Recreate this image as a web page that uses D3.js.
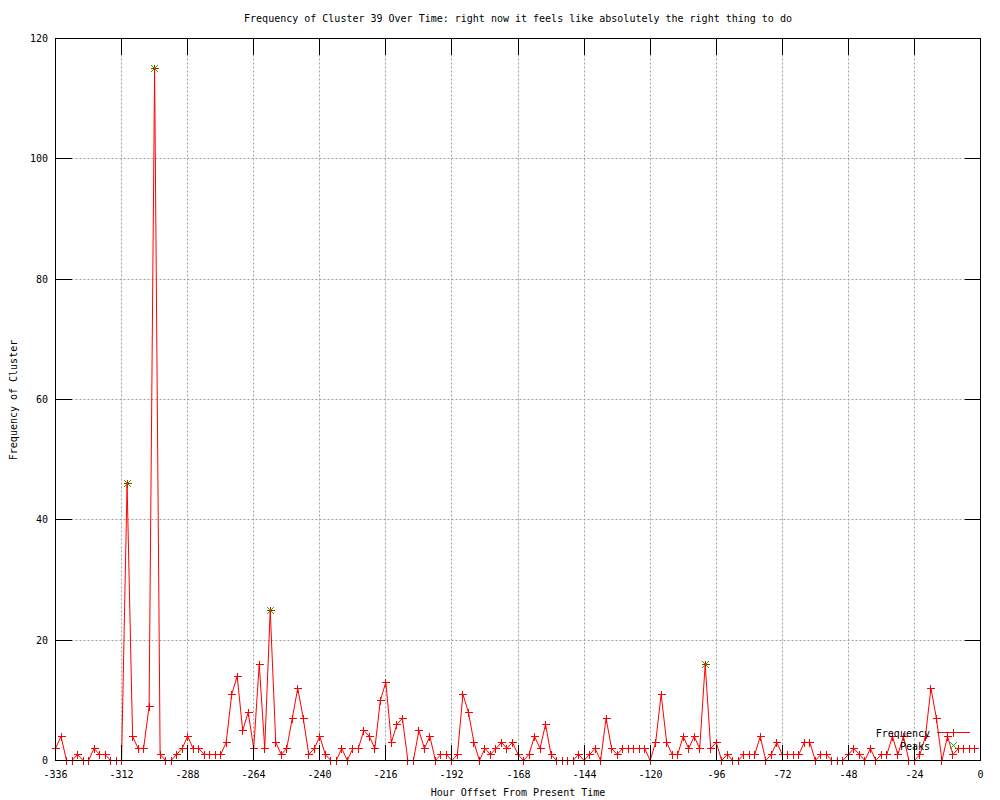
<!DOCTYPE html>
<html><head><meta charset="utf-8">
<script src="https://cdn.jsdelivr.net/npm/d3@7"></script>
<style>
body{margin:0;background:#fff}
text{font-family:"DejaVu Sans Mono",monospace;font-size:10px;fill:#000}
</style>
</head><body>
<svg id="c" width="1000" height="800"></svg>
<script>
const chartTitle = "Frequency of Cluster 39 Over Time: right now it feels like absolutely the right thing to do";
const xLabel = "Hour Offset From Present Time";
const yLabel = "Frequency of Cluster";
const seriesNames = ["Frequency", "Peaks"];

const hours = [
 -336,-334,-332,-330,-328,-326,-324,-322,-320,-318,-316,-314,-312,-310,-308,-306,-304,-302,-300,-298,
 -296,-294,-292,-290,-288,-286,-284,-282,-280,-278,-276,-274,-272,-270,-268,-266,-264,-262,-260,-258,
 -256,-254,-252,-250,-248,-246,-244,-242,-240,-238,-236,-234,-232,-230,-228,-226,-224,-222,-220,-218,
 -216,-214,-212,-210,-208,-206,-204,-202,-200,-198,-196,-194,-192,-190,-188,-186,-184,-182,-180,-178,
 -176,-174,-172,-170,-168,-166,-164,-162,-160,-158,-156,-154,-152,-150,-148,-146,-144,-142,-140,-138,
 -136,-134,-132,-130,-128,-126,-124,-122,-120,-118,-116,-114,-112,-110,-108,-106,-104,-102,-100,-98,
 -96,-94,-92,-90,-88,-86,-84,-82,-80,-78,-76,-74,-72,-70,-68,-66,-64,-62,-60,-58,
 -56,-54,-52,-50,-48,-46,-44,-42,-40,-38,-36,-34,-32,-30,-28,-26,-24,-22,-20,-18,
 -16,-14,-12,-10,-8,-6,-4,-2
];
const frequency = [
 2,4,0,0,1,0,0,2,1,1,0,0,0,46,4,2,2,9,115,1,
 0,0,1,2,4,2,2,1,1,1,1,3,11,14,5,8,2,16,2,25,
 3,1,2,7,12,7,1,2,4,1,0,0,2,0,2,2,5,4,2,10,
 13,3,6,7,0,0,5,2,4,0,1,1,0,1,11,8,3,0,2,1,
 2,3,2,3,1,0,1,4,2,6,1,0,0,0,0,1,0,1,2,0,
 7,2,1,2,2,2,2,2,0,3,11,3,1,1,4,2,4,2,16,2,
 3,0,1,0,0,1,1,1,4,0,1,3,1,1,1,1,3,3,0,1,
 1,0,0,0,1,2,1,0,2,0,1,1,4,1,4,0,0,1,4,12,
 7,0,4,1,2,2,2,2
];
const peakHours = [-310, -300, -258, -100];
const peakValues = [46, 115, 25, 16];
const xTicks = [-336,-312,-288,-264,-240,-216,-192,-168,-144,-120,-96,-72,-48,-24,0];
const yTicks = [0,20,40,60,80,100,120];

(function () {
const svg = d3.select("#c");
const L = 55.5, R = 980.5, T = 38.5, B = 760.5;
const x = d3.scaleLinear().domain([-336, 0]).range([L, R]);
const y = d3.scaleLinear().domain([0, 120]).range([B, T]);
const snap = v => Math.round(v - 0.5) + 0.5;

// grid
const grid = svg.append("g").attr("stroke", "#a0a0a0").attr("stroke-dasharray", "2,2").attr("stroke-width", 1);
xTicks.filter(d => d > -336 && d < 0).forEach(d => {
  grid.append("line").attr("x1", snap(x(d))).attr("x2", snap(x(d))).attr("y1", T).attr("y2", B);
});
yTicks.filter(d => d > 0 && d < 120).forEach(d => {
  grid.append("line").attr("y1", snap(y(d))).attr("y2", snap(y(d))).attr("x1", L).attr("x2", R);
});

// frequency line
const pts = hours.map((h, i) => [h, frequency[i]]);
svg.append("path").datum(pts)
  .attr("fill", "none").attr("stroke", "#ff0000").attr("stroke-width", 1)
  .attr("d", d3.line().x(d => x(d[0])).y(d => y(d[1])));

const plus = (cx, cy, s) => `M${cx - s},${cy}H${cx + s}M${cx},${cy - s}V${cy + s}`;
const cross = (cx, cy, s) => `M${cx - s},${cy - s}L${cx + s},${cy + s}M${cx - s},${cy + s}L${cx + s},${cy - s}`;
svg.append("path")
  .attr("fill", "none").attr("stroke", "#ff0000").attr("stroke-width", 1).attr("shape-rendering", "crispEdges")
  .attr("d", pts.map(d => plus(snap(x(d[0])), snap(y(d[1])), 4)).join(""));

// peaks
svg.append("path")
  .attr("fill", "none").attr("stroke", "#00c000").attr("stroke-width", 1)
  .attr("d", peakHours.map((h, i) => cross(snap(x(h)), snap(y(peakValues[i])), 3.5)).join(""));

// axes (ticks inward, mirrored)
const fmt = d => String(d);
const ax = svg.append("g").attr("class", "axes");
const gBottom = ax.append("g").attr("transform", `translate(0,${B})`)
  .call(d3.axisBottom(x).tickValues(xTicks).tickSize(-16).tickPadding(10).tickFormat(fmt));
const gTop = ax.append("g").attr("transform", `translate(0,${T})`)
  .call(d3.axisTop(x).tickValues(xTicks).tickSize(-16).tickFormat(""));
const gLeft = ax.append("g").attr("transform", `translate(${L},0)`)
  .call(d3.axisLeft(y).tickValues(yTicks).tickSize(-16).tickPadding(7.5).tickFormat(fmt));
const gRight = ax.append("g").attr("transform", `translate(${R},0)`)
  .call(d3.axisRight(y).tickValues(yTicks).tickSize(-16).tickFormat(""));
ax.selectAll(".domain").remove();
ax.selectAll("line").attr("stroke", "#000").attr("shape-rendering", "crispEdges");
ax.selectAll("g").attr("font-family", null).attr("font-size", null);
ax.selectAll("text").attr("fill", "#000");
[gBottom, gTop].forEach(g => g.selectAll(".tick").attr("transform", d => `translate(${snap(x(d))},0)`));
[gLeft, gRight].forEach(g => g.selectAll(".tick").attr("transform", d => `translate(0,${snap(y(d))})`));

// border
svg.append("rect").attr("x", L).attr("y", T).attr("width", R - L).attr("height", B - T)
  .attr("fill", "none").attr("stroke", "#000").attr("stroke-width", 1).attr("shape-rendering", "crispEdges");

// titles
svg.append("text").attr("x", 518).attr("y", 22).attr("text-anchor", "middle").text(chartTitle);
svg.append("text").attr("x", 518).attr("y", 796).attr("text-anchor", "middle").text(xLabel);
svg.append("text").attr("transform", "translate(17,400) rotate(-90)").attr("text-anchor", "middle").text(yLabel);

// legend
const lg = svg.append("g");
lg.append("text").attr("x", 930).attr("y", 737).attr("text-anchor", "end").text(seriesNames[0]);
lg.append("text").attr("x", 930).attr("y", 749.5).attr("text-anchor", "end").text(seriesNames[1]);
lg.append("line").attr("x1", 937).attr("x2", 970).attr("y1", 732.5).attr("y2", 732.5)
  .attr("stroke", "#ff0000").attr("shape-rendering", "crispEdges");
lg.append("path").attr("fill", "none").attr("stroke", "#ff0000").attr("shape-rendering", "crispEdges")
  .attr("d", plus(953.5, 732.5, 4));
lg.append("path").attr("fill", "none").attr("stroke", "#00c000")
  .attr("d", cross(953.5, 745.5, 3.5));
})();
</script>
</body></html>
